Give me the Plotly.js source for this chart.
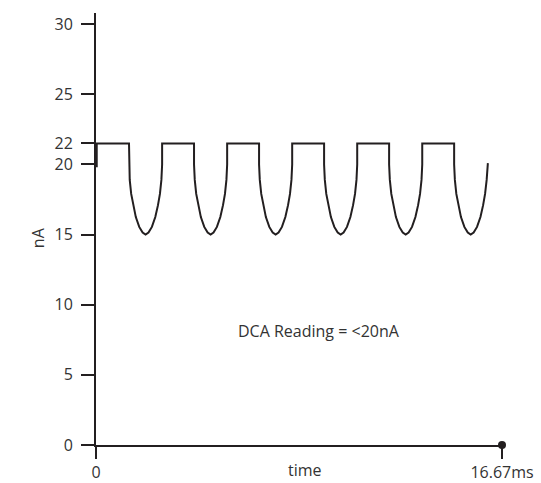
<!DOCTYPE html>
<html>
<head>
<meta charset="utf-8">
<script src="https://cdn.plot.ly/plotly-3.0.1.min.js"></script>
<style>html,body{margin:0;padding:0;background:#fff;}#chart{width:541px;height:483px;}</style>
</head>
<body>
<div id="chart"></div>
<script>
// Time (ms) and current (nA)
var timeMs = [
  0.03, 0.03,
  1.355, 1.355, 1.385, 1.445, 1.525, 1.635, 1.775, 1.915, 2.035, 2.155, 2.295, 2.435, 2.545, 2.625, 2.685, 2.715, 2.715,
  4.025, 4.025, 4.055, 4.115, 4.195, 4.305, 4.445, 4.585, 4.705, 4.825, 4.965, 5.105, 5.215, 5.295, 5.355, 5.385, 5.385,
  6.695, 6.695, 6.725, 6.785, 6.865, 6.975, 7.115, 7.255, 7.375, 7.495, 7.635, 7.775, 7.885, 7.965, 8.025, 8.055, 8.055,
  9.365, 9.365, 9.395, 9.455, 9.535, 9.645, 9.785, 9.925, 10.045, 10.165, 10.305, 10.445, 10.555, 10.635, 10.695, 10.725, 10.725,
  12.035, 12.035, 12.065, 12.125, 12.205, 12.315, 12.455, 12.595, 12.715, 12.835, 12.975, 13.115, 13.225, 13.305, 13.365, 13.395, 13.395,
  14.705, 14.705, 14.735, 14.795, 14.875, 14.985, 15.125, 15.265, 15.385, 15.505, 15.645, 15.785, 15.895, 15.975, 16.04, 16.09
];
var currentNA = [
  19.8, 21.5,
  21.5, 20, 18.9, 17.9, 17.1, 16.25, 15.55, 15.15, 15.0, 15.15, 15.55, 16.25, 17.1, 17.9, 18.9, 20, 21.5,
  21.5, 20, 18.9, 17.9, 17.1, 16.25, 15.55, 15.15, 15.0, 15.15, 15.55, 16.25, 17.1, 17.9, 18.9, 20, 21.5,
  21.5, 20, 18.9, 17.9, 17.1, 16.25, 15.55, 15.15, 15.0, 15.15, 15.55, 16.25, 17.1, 17.9, 18.9, 20, 21.5,
  21.5, 20, 18.9, 17.9, 17.1, 16.25, 15.55, 15.15, 15.0, 15.15, 15.55, 16.25, 17.1, 17.9, 18.9, 20, 21.5,
  21.5, 20, 18.9, 17.9, 17.1, 16.25, 15.55, 15.15, 15.0, 15.15, 15.55, 16.25, 17.1, 17.9, 18.9, 20, 21.5,
  21.5, 20, 18.9, 17.9, 17.1, 16.25, 15.55, 15.15, 15.0, 15.15, 15.55, 16.25, 17.1, 17.9, 18.9, 20.1
];
var yTickVals = [0, 5, 10, 15, 20, 21.5, 25, 30];
var yTickText = ['0', '5', '10', '15', '20', '22', '25', '30'];
var xTickVals = [0, 16.67];
var xTickText = ['0', '16.67ms'];
var endPointX = [16.67];
var endPointY = [0];
var noteText = 'DCA Reading = &lt;20nA';
var noteX = 9.14, noteY = 8.15;

var ink = '#231f20';
var textInk = '#333333';
var fontFam = '"Open Sans", "Noto Sans", sans-serif';

var traces = [
  {x: timeMs, y: currentNA, type: 'scatter', mode: 'lines',
   line: {color: ink, width: 2}, hoverinfo: 'skip'},
  {x: endPointX, y: endPointY, type: 'scatter', mode: 'markers',
   marker: {color: ink, size: 8}, cliponaxis: false, hoverinfo: 'skip'}
];

var layout = {
  width: 541, height: 483,
  margin: {l: 96, r: 39, t: 13, b: 38},
  paper_bgcolor: '#fff', plot_bgcolor: '#fff',
  showlegend: false,
  font: {family: fontFam, size: 16, color: textInk},
  xaxis: {
    range: [0, 16.67], showgrid: false, zeroline: false,
    showline: true, linecolor: ink, linewidth: 2,
    ticks: 'outside', ticklen: 12, tickwidth: 2, tickcolor: ink,
    tickmode: 'array', tickvals: xTickVals, ticktext: xTickText,
    tickfont: {family: fontFam, size: 16, color: textInk}
  },
  yaxis: {
    range: [0, 30.8], showgrid: false, zeroline: false,
    showline: true, linecolor: ink, linewidth: 2,
    ticks: 'outside', ticklen: 13, tickwidth: 2, tickcolor: ink,
    tickmode: 'array', tickvals: yTickVals, ticktext: yTickText,
    ticklabelstandoff: 5,
    tickfont: {family: fontFam, size: 16, color: textInk}
  },
  annotations: [
    {x: noteX, y: noteY, xref: 'x', yref: 'y', text: noteText, showarrow: false,
     xanchor: 'center', yanchor: 'middle',
     font: {family: fontFam, size: 16, color: textInk}},
    {x: -0.143, y: 0.481, xref: 'paper', yref: 'paper', text: 'nA', showarrow: false,
     xanchor: 'center', yanchor: 'middle',
     textangle: -90, font: {family: fontFam, size: 16, color: textInk}},
    {x: 0.515, y: -0.058, xref: 'paper', yref: 'paper', text: 'time', showarrow: false,
     xanchor: 'center', yanchor: 'middle', font: {family: fontFam, size: 16, color: textInk}}
  ]
};

Plotly.newPlot('chart', traces, layout, {displayModeBar: false, staticPlot: true});
</script>
</body>
</html>
